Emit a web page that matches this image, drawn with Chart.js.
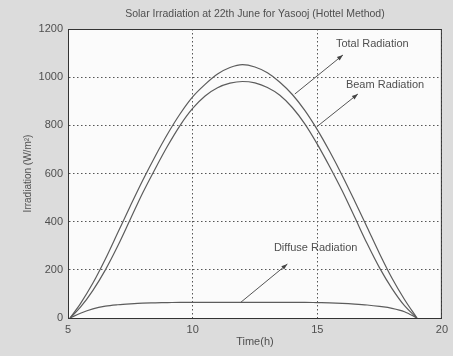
<!DOCTYPE html>
<html>
<head>
<meta charset="utf-8">
<script src="https://cdn.jsdelivr.net/npm/chart.js@4.4.1/dist/chart.umd.min.js"></script>
<style>
  body { margin: 0; background: #dcdcdc; }
  canvas { display: block; }
</style>
</head>
<body>
<canvas id="solarChart" width="453" height="356"></canvas>
<script>
// Time of day (h) and irradiation (W/m²)
const hours = [5.08, 5.5, 6, 6.5, 7, 7.5, 8, 8.5, 9, 9.5, 10, 10.5, 11, 11.5, 12,
  12.5, 13, 13.5, 14, 14.5, 15, 15.5, 16, 16.5, 17, 17.5, 18, 18.5, 19];
const totalRad = [0, 60, 145, 245, 355, 465, 572, 672, 765, 848, 918, 970, 1013, 1040, 1052,
  1042, 1018, 979, 928, 862, 782, 691, 592, 486, 377, 267, 165, 77, 0];
const beamRad = [0, 45, 115, 200, 300, 410, 520, 620, 715, 800, 870, 922, 956, 975, 982,
  976, 957, 925, 874, 806, 722, 628, 528, 419, 309, 208, 122, 51, 0];
const diffuseRad = [0, 20, 38, 49, 55, 59, 62, 63, 64, 65, 65, 65, 65, 65, 65,
  65, 65, 65, 65, 65, 64, 63, 61, 58, 54, 48, 40, 26, 0];

const xTicks = [5, 10, 15, 20];
const yTicks = [0, 200, 400, 600, 800, 1000, 1200];
const chartTitle = "Solar Irradiation at 22th June for Yasooj (Hottel Method)";

// text labels with arrows, in data units
const notes = [
  { text: "Total Radiation", at: [15.75, 1138], from: [14.1, 930], to: [16.03, 1092] },
  { text: "Beam Radiation", at: [16.15, 968], from: [14.98, 794], to: [16.63, 930] },
  { text: "Diffuse Radiation", at: [13.26, 291], from: [11.93, 65], to: [13.8, 224] },
];

const pts = (vals) => hours.map((h, i) => ({ x: h, y: vals[i] }));
const lineColor = "#5c5c5c";
const textColor = "#4f4f4f";
const font = "'Liberation Sans', Arial, sans-serif";

const frame = {
  id: "frame",
  beforeDraw(chart) {
    const { ctx, chartArea: a } = chart;
    ctx.save();
    ctx.fillStyle = "#dcdcdc";
    ctx.fillRect(0, 0, chart.width, chart.height);
    ctx.fillStyle = "#fbfbfb";
    ctx.fillRect(a.left, a.top, a.right - a.left, a.bottom - a.top);
    ctx.restore();
  },
  afterDraw(chart) {
    const { ctx, chartArea: a, scales } = chart;
    ctx.save();
    ctx.strokeStyle = "#333";
    ctx.lineWidth = 1;
    ctx.strokeRect(a.left + 0.5, a.top + 0.5, a.right - a.left - 1, a.bottom - a.top);

    // title centred over the plot box
    ctx.fillStyle = textColor;
    ctx.font = "10.5px " + font;
    ctx.textAlign = "center";
    ctx.textBaseline = "middle";
    ctx.fillText(chartTitle, (a.left + a.right) / 2, 14);

    ctx.font = "11px " + font;
    ctx.textAlign = "left";
    notes.forEach((n) => {
      ctx.fillStyle = textColor;
      ctx.fillText(n.text, scales.x.getPixelForValue(n.at[0]), scales.y.getPixelForValue(n.at[1]));
      const x1 = scales.x.getPixelForValue(n.from[0]);
      const y1 = scales.y.getPixelForValue(n.from[1]);
      const x2 = scales.x.getPixelForValue(n.to[0]);
      const y2 = scales.y.getPixelForValue(n.to[1]);
      ctx.strokeStyle = "#555";
      ctx.beginPath();
      ctx.moveTo(x1, y1);
      ctx.lineTo(x2, y2);
      ctx.stroke();
      const ang = Math.atan2(y2 - y1, x2 - x1);
      ctx.fillStyle = "#444";
      ctx.beginPath();
      ctx.moveTo(x2, y2);
      ctx.lineTo(x2 - 6 * Math.cos(ang) + 2.2 * Math.sin(ang), y2 - 6 * Math.sin(ang) - 2.2 * Math.cos(ang));
      ctx.lineTo(x2 - 6 * Math.cos(ang) - 2.2 * Math.sin(ang), y2 - 6 * Math.sin(ang) + 2.2 * Math.cos(ang));
      ctx.closePath();
      ctx.fill();
    });
    ctx.restore();
  },
};

const lineSet = (label, vals) => ({
  label: label,
  data: pts(vals),
  borderColor: lineColor,
  borderWidth: 1.2,
  pointRadius: 0,
  cubicInterpolationMode: "monotone",
  fill: false,
});

new Chart(document.getElementById("solarChart").getContext("2d"), {
  type: "line",
  data: {
    datasets: [
      lineSet("Total Radiation", totalRad),
      lineSet("Beam Radiation", beamRad),
      lineSet("Diffuse Radiation", diffuseRad),
    ],
  },
  options: {
    responsive: false,
    animation: false,
    layout: { padding: { top: 29, right: 11, left: 0, bottom: 0 } },
    plugins: {
      legend: { display: false },
      tooltip: { enabled: false },
      title: { display: false },
    },
    scales: {
      x: {
        type: "linear",
        min: 5,
        max: 20,
        afterBuildTicks: (s) => { s.ticks = xTicks.map((v) => ({ value: v })); },
        afterFit: (s) => { s.height = 38; },
        ticks: {
          color: textColor,
          font: { family: font, size: 11 },
          padding: 5,
          maxRotation: 0,
          callback: (v) => String(v),
        },
        grid: { color: "#555", drawTicks: false },
        border: { display: true, color: "#333", dash: [1.5, 2.5] },
        title: {
          display: true,
          text: "Time(h)",
          color: textColor,
          font: { family: font, size: 11 },
          padding: { top: 0, bottom: 7 },
        },
      },
      y: {
        min: 0,
        max: 1200,
        afterBuildTicks: (s) => { s.ticks = yTicks.map((v) => ({ value: v })); },
        afterFit: (s) => { s.width = 68; },
        ticks: {
          color: textColor,
          font: { family: font, size: 11 },
          padding: 5,
          callback: (v) => String(v),
        },
        grid: { color: "#555", drawTicks: false },
        border: { display: true, color: "#333", dash: [1.5, 2.5] },
        title: {
          display: true,
          text: "Irradiation (W/m²)",
          color: textColor,
          font: { family: font, size: 10 },
          padding: { top: 22, bottom: 0 },
        },
      },
    },
  },
  plugins: [frame],
});
</script>
</body>
</html>
